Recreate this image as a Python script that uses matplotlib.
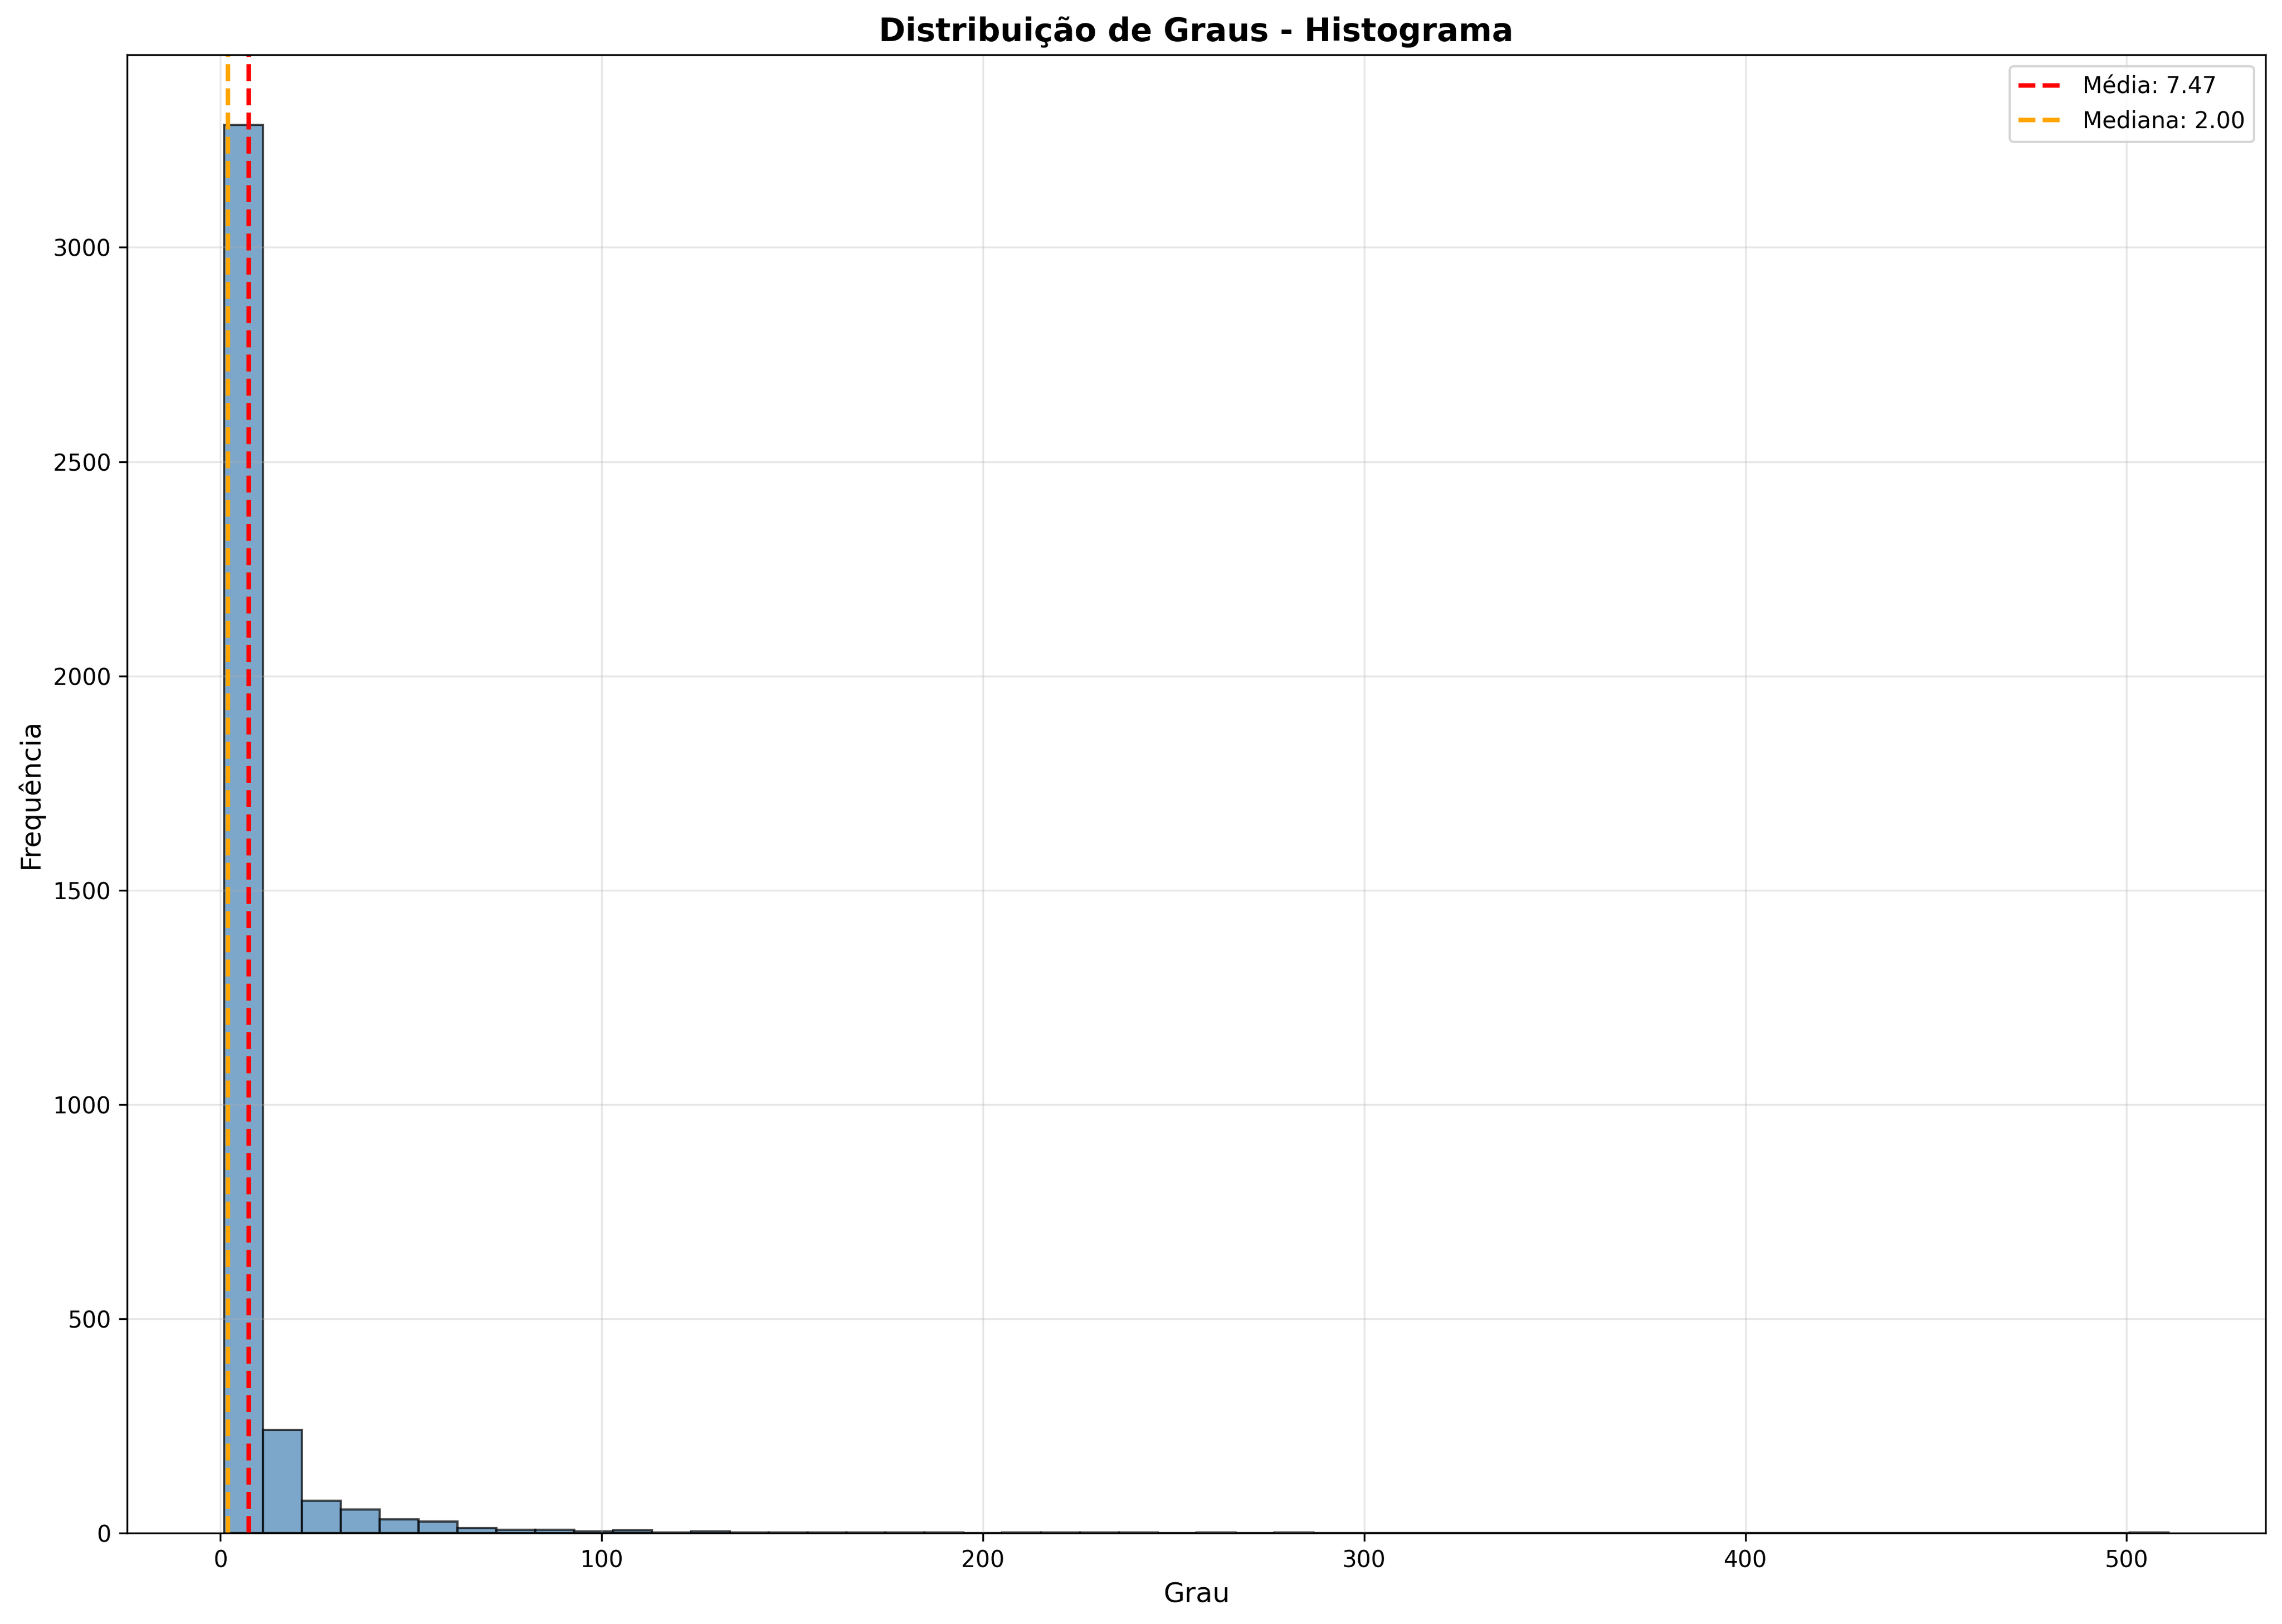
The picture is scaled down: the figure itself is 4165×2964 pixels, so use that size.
import numpy as np
import matplotlib
matplotlib.use('Agg')
import matplotlib.pyplot as plt

# grau minimo / maximo e numero de bins do histograma
grau_min = 1
grau_max = 511
n_bins = 50

# frequencia em cada bin
frequencias = [3285, 241, 76, 55, 32, 27, 12, 8, 8, 4,
               6, 1, 4, 1, 1, 1, 1, 1, 1, 0,
               1, 1, 1, 1, 0, 1, 0, 1, 0, 0,
               0, 0, 0, 0, 0, 0, 0, 0, 0, 0,
               0, 0, 0, 0, 0, 0, 0, 0, 0, 1]

media = 7.47
mediana = 2.00

bordas = np.linspace(grau_min, grau_max, n_bins + 1)

fig = plt.figure(figsize=(14, 10))
ax = fig.add_subplot(1, 1, 1)
ax.hist(bordas[:-1], bins=bordas, weights=frequencias,
        alpha=0.7, color='steelblue', edgecolor='black')
ax.axvline(media, color='red', linestyle='--', linewidth=2, label=f'Média: {media:.2f}')
ax.axvline(mediana, color='orange', linestyle='--', linewidth=2, label=f'Mediana: {mediana:.2f}')

ax.set_title('Distribuição de Graus - Histograma', fontsize=14, fontweight='bold')
ax.set_xlabel('Grau', fontsize=12)
ax.set_ylabel('Frequência', fontsize=12)
ax.legend()
ax.grid(True, alpha=0.3)

plt.tight_layout()
plt.savefig('out.png', dpi=300, bbox_inches='tight')
